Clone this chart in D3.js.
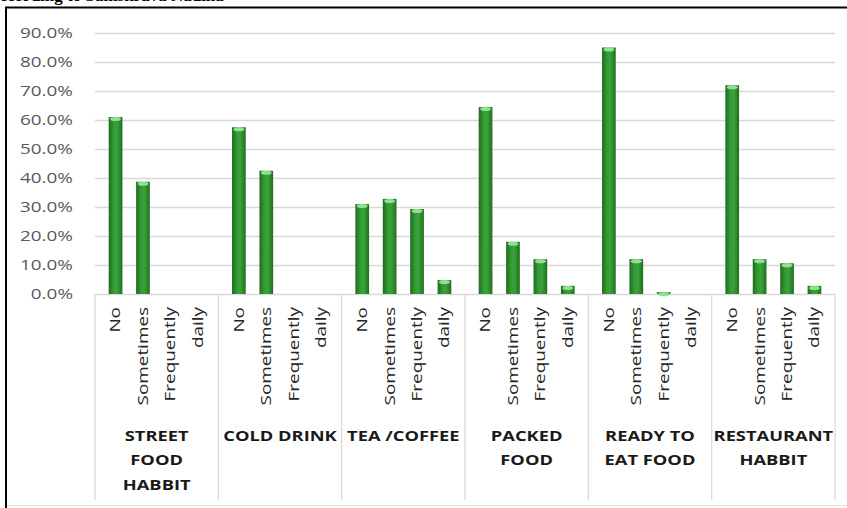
<!DOCTYPE html>
<html>
<head>
<meta charset="utf-8">
<script src="https://cdn.jsdelivr.net/npm/d3@7"></script>
<style>
  body { margin: 0; background: #fff; }
  text { font-family: "Open Sans", Lato, sans-serif; }
</style>
</head>
<body>
<svg width="847" height="508"></svg>
<script>
// categories and sub-categories
var groups = [["STREET", "FOOD", "HABBIT"], ["COLD DRINK"], ["TEA /COFFEE"], ["PACKED", "FOOD"], ["READY TO", "EAT FOOD"], ["RESTAURANT", "HABBIT"]];
var answers = ["No", "Sometimes", "Frequently", "daily"];
// percent values per group, in answer order
var streetFood = [61.0, 38.7, 0, 0];
var coldDrink = [57.5, 42.5, 0, 0];
var teaCoffee = [31.0, 32.8, 29.3, 4.8];
var packedFood = [64.5, 18.0, 12.0, 2.8];
var readyToEat = [85.0, 12.0, 0.6, 0];
var restaurant = [72.0, 12.0, 10.6, 2.8];
var yTicks = [0, 10, 20, 30, 40, 50, 60, 70, 80, 90];

var seriesValues = [streetFood, coldDrink, teaCoffee, packedFood, readyToEat, restaurant];

var svg = d3.select('svg');
var margin = {top: 33, right: 12, bottom: 214, left: 95},
    width = +svg.attr("width") - margin.left - margin.right,
    height = +svg.attr("height") - margin.top - margin.bottom;

// the source picture is stretched, so labels get a scale along their length
var stretch = 1.35;

// cut-off caption above the chart box
svg.append("text")
    .attr("x", -9).attr("y", 1)
    .style("font-family", "'Liberation Serif', serif")
    .style("font-weight", "bold")
    .style("font-size", "17px")
    .text("according to Samskrava Nadina");

// outer frame
svg.append("line").attr("x1", 5).attr("x2", 847).attr("y1", 7.5).attr("y2", 7.5)
    .attr("stroke", "#000").attr("stroke-width", 2);
svg.append("line").attr("x1", 6).attr("x2", 6).attr("y1", 7).attr("y2", 508)
    .attr("stroke", "#000").attr("stroke-width", 2);
svg.append("line").attr("x1", 7).attr("x2", 847).attr("y1", 505.5).attr("y2", 505.5)
    .attr("stroke", "#e4e4e4");

var defs = svg.append("defs");
var grad = defs.append("linearGradient").attr("id", "barGrad")
    .attr("x1", "0%").attr("x2", "100%").attr("y1", "0%").attr("y2", "0%");
grad.append("stop").attr("offset", "0%").attr("stop-color", "#1d6b1d");
grad.append("stop").attr("offset", "35%").attr("stop-color", "#359a35");
grad.append("stop").attr("offset", "60%").attr("stop-color", "#3aa23a");
grad.append("stop").attr("offset", "100%").attr("stop-color", "#1f6f1f");

var g = svg.append("g")
    .attr("transform", "translate(" + margin.left + "," + margin.top + ")");

var x0 = d3.scaleBand().domain(d3.range(groups.length)).range([0, width]);
var x1 = d3.scaleBand().domain(answers).range([0, x0.bandwidth()]).padding(0.5);
var y = d3.scaleLinear().domain([0, 90]).range([height, 0]);

// gridlines
g.selectAll(".grid").data(yTicks.slice(1)).enter().append("line")
    .attr("x1", 0).attr("x2", width)
    .attr("y1", function(d) { return Math.round(y(d)) + 0.5; })
    .attr("y2", function(d) { return Math.round(y(d)) + 0.5; })
    .attr("stroke", "#d9d9d9").attr("stroke-width", 1.3);

// y labels
g.selectAll(".ylab").data(yTicks).enter().append("text")
    .attr("transform", function(d) { return "translate(-22," + y(d) + ") scale(" + stretch + ",1)"; })
    .attr("dy", "0.35em")
    .attr("text-anchor", "end")
    .style("font-size", "14px")
    .style("fill", "#595959")
    .text(function(d) { return d.toFixed(1) + "%"; });

// group separators
g.selectAll(".sep").data(d3.range(groups.length + 1)).enter().append("line")
    .attr("x1", function(d) { return d === groups.length ? width : x0(d); })
    .attr("x2", function(d) { return d === groups.length ? width : x0(d); })
    .attr("y1", height).attr("y2", height + 206)
    .attr("stroke", "#d9d9d9").attr("stroke-width", 1.3);

// axis line
g.append("line").attr("x1", 0).attr("x2", width)
    .attr("y1", height + 0.5).attr("y2", height + 0.5)
    .attr("stroke", "#d9d9d9").attr("stroke-width", 1.3);

var slice = g.selectAll(".slice").data(seriesValues).enter().append("g")
    .attr("transform", function(d, i) { return "translate(" + x0(i) + ",0)"; });

var bars = slice.selectAll(".bar")
    .data(function(d) { return d.map(function(v, j) { return {stat: answers[j], value: v}; }).filter(function(e) { return e.value > 0; }); })
    .enter().append("g");

bars.append("rect")
    .attr("x", function(d) { return x1(d.stat); })
    .attr("width", x1.bandwidth())
    .attr("y", function(d) { return y(d.value); })
    .attr("height", function(d) { return height - y(d.value); })
    .style("fill", "url(#barGrad)");

bars.append("ellipse")
    .attr("cx", function(d) { return x1(d.stat) + x1.bandwidth() / 2; })
    .attr("cy", function(d) { return y(d.value) + 2; })
    .attr("rx", x1.bandwidth() / 2 - 1.5)
    .attr("ry", 2)
    .style("fill", "#8ee28e");

// rotated answer labels
slice.selectAll(".alab").data(answers).enter().append("text")
    .attr("transform", function(d) { return "translate(" + (x1(d) + x1.bandwidth() / 2) + "," + (height + 13) + ") rotate(-90) scale(" + stretch + ",1)"; })
    .attr("dy", "0.35em")
    .attr("text-anchor", "end")
    .style("font-size", "14px")
    .style("fill", "#262626")
    .text(function(d) { return d; });

// group labels
var glab = slice.append("text")
    .attr("transform", "translate(" + (x0.bandwidth() / 2) + "," + (height + 147) + ") scale(1.22,1)")
    .attr("text-anchor", "middle")
    .style("font-size", "15px")
    .style("font-weight", "bold")
    .style("fill", "#1a1a1a");
glab.selectAll("tspan").data(function(d, i) { return groups[i]; }).enter().append("tspan")
    .attr("x", 0)
    .attr("dy", function(d, i) { return i === 0 ? 0 : 24.5; })
    .text(function(d) { return d; });
</script>
</body>
</html>
